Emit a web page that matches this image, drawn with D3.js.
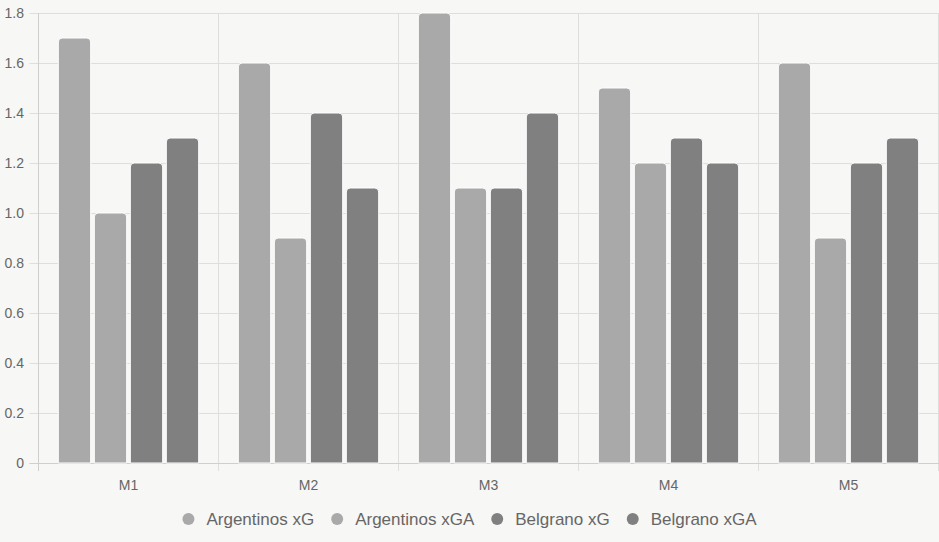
<!DOCTYPE html>
<html lang="en">
  <head>
    <meta charset="utf-8" />
    <title>xG chart</title>
    <script src="https://cdn.jsdelivr.net/npm/d3@7"></script>
    <style>
      body { margin: 0; background: #f7f7f5; }
      text { font-family: "Liberation Sans", Arial, sans-serif; fill: #666; }
    </style>
  </head>
  <body>
    <div id="container"></div>
    <script>
      var matches = ["M1", "M2", "M3", "M4", "M5"];
      var seriesNames = ["Argentinos xG", "Argentinos xGA", "Belgrano xG", "Belgrano xGA"];
      var argentinosXG = [1.7, 1.6, 1.8, 1.5, 1.6];
      var argentinosXGA = [1.0, 0.9, 1.1, 1.2, 0.9];
      var belgranoXG = [1.2, 1.4, 1.1, 1.3, 1.2];
      var belgranoXGA = [1.3, 1.1, 1.4, 1.2, 1.3];
      var yTicks = [0, 0.2, 0.4, 0.6, 0.8, 1.0, 1.2, 1.4, 1.6, 1.8];
      var seriesColors = ["#a9a9a9", "#a9a9a9", "#808080", "#808080"];

      var allSeries = [argentinosXG, argentinosXGA, belgranoXG, belgranoXGA];

      var width = 939;
      var height = 542;
      var margin = { top: 13, right: 1, bottom: 79, left: 38.5 };

      var svg = d3
        .select("#container")
        .append("svg")
        .attr("width", width)
        .attr("height", height);

      svg.append("rect").attr("width", width).attr("height", height).attr("fill", "#f7f7f5");

      var x0 = d3
        .scaleBand()
        .domain(matches)
        .range([margin.left, width - margin.right + 0.5])
        .paddingInner(0)
        .paddingOuter(0);

      // chart.js style: 80% of category, 90% of each slot
      var x1 = d3
        .scaleBand()
        .domain(seriesNames)
        .range([x0.bandwidth() * 0.1, x0.bandwidth() * 0.9])
        .paddingInner(0.1)
        .paddingOuter(0.05);

      var y = d3
        .scaleLinear()
        .domain([0, 1.8])
        .range([height - margin.bottom, margin.top]);

      var grid = svg.append("g");

      // horizontal grid
      grid
        .selectAll("line.h")
        .data(yTicks)
        .enter()
        .append("line")
        .attr("x1", margin.left - 9)
        .attr("x2", width)
        .attr("y1", function (d) { return Math.round(y(d)) + 0.5; })
        .attr("y2", function (d) { return Math.round(y(d)) + 0.5; })
        .attr("stroke", "#dededc");

      // vertical grid at category edges
      var edges = matches.map(function (m) { return x0(m); });
      edges.push(x0(matches[matches.length - 1]) + x0.bandwidth());
      grid
        .selectAll("line.v")
        .data(edges)
        .enter()
        .append("line")
        .attr("x1", function (d) { return Math.floor(d) + 0.5; })
        .attr("x2", function (d) { return Math.floor(d) + 0.5; })
        .attr("y1", margin.top)
        .attr("y2", height - margin.bottom + 8)
        .attr("stroke", "#dededc");

      // axis lines
      svg
        .append("line")
        .attr("x1", Math.floor(margin.left) + 0.5)
        .attr("x2", Math.floor(margin.left) + 0.5)
        .attr("y1", margin.top)
        .attr("y2", height - margin.bottom + 8)
        .attr("stroke", "#cfcfcd");
      svg
        .append("line")
        .attr("x1", margin.left - 9)
        .attr("x2", width)
        .attr("y1", Math.round(y(0)) + 0.5)
        .attr("y2", Math.round(y(0)) + 0.5)
        .attr("stroke", "#cfcfcd");

      // y tick labels
      svg
        .selectAll("text.ytick")
        .data(yTicks)
        .enter()
        .append("text")
        .attr("class", "ytick")
        .attr("x", 24)
        .attr("y", function (d) { return y(d); })
        .attr("dy", "0.36em")
        .attr("text-anchor", "end")
        .style("font-size", "14px")
        .text(function (d) { return d === 0 ? "0" : d3.format(".1f")(d); });

      // x tick labels
      svg
        .selectAll("text.xtick")
        .data(matches)
        .enter()
        .append("text")
        .attr("class", "xtick")
        .attr("x", function (d) { return x0(d) + x0.bandwidth() / 2; })
        .attr("y", 490)
        .attr("text-anchor", "middle")
        .style("font-size", "14px")
        .text(function (d) { return d; });

      // rounded top bar path
      function barPath(bx, by, bw, bh) {
        var r = Math.min(4, bh);
        return "M" + bx + "," + (by + bh) +
          "V" + (by + r) +
          "Q" + bx + "," + by + " " + (bx + r) + "," + by +
          "H" + (bx + bw - r) +
          "Q" + (bx + bw) + "," + by + " " + (bx + bw) + "," + (by + r) +
          "V" + (by + bh) + "Z";
      }

      var groups = svg
        .selectAll("g.match")
        .data(matches)
        .enter()
        .append("g")
        .attr("class", "match")
        .attr("transform", function (d) { return "translate(" + x0(d) + ",0)"; });

      groups
        .selectAll("path")
        .data(function (m, i) {
          return seriesNames.map(function (s, k) {
            return { series: s, k: k, value: allSeries[k][i] };
          });
        })
        .enter()
        .append("path")
        .attr("d", function (d) {
          return barPath(x1(d.series), y(d.value), x1.bandwidth(), y(0) - y(d.value));
        })
        .attr("fill", function (d) { return seriesColors[d.k]; })
        .attr("stroke", "#ffffff")
        .attr("stroke-width", 1);

      // legend
      var legend = svg.append("g");
      var items = legend
        .selectAll("g")
        .data(seriesNames)
        .enter()
        .append("g");

      items
        .append("circle")
        .attr("cx", 6)
        .attr("cy", 519)
        .attr("r", 6)
        .attr("fill", function (d, i) { return seriesColors[i]; });

      items
        .append("text")
        .attr("x", 24)
        .attr("y", 519)
        .attr("dy", "0.36em")
        .style("font-size", "17px")
        .text(function (d) { return d; });

      var widths = [];
      items.each(function () {
        widths.push(24 + d3.select(this).select("text").node().getComputedTextLength());
      });
      var gap = 17;
      var total = d3.sum(widths) + gap * (widths.length - 1);
      var start = width / 2 - total / 2;
      items.attr("transform", function (d, i) {
        var off = start + d3.sum(widths.slice(0, i)) + gap * i;
        return "translate(" + off + ",0)";
      });
    </script>
  </body>
</html>
